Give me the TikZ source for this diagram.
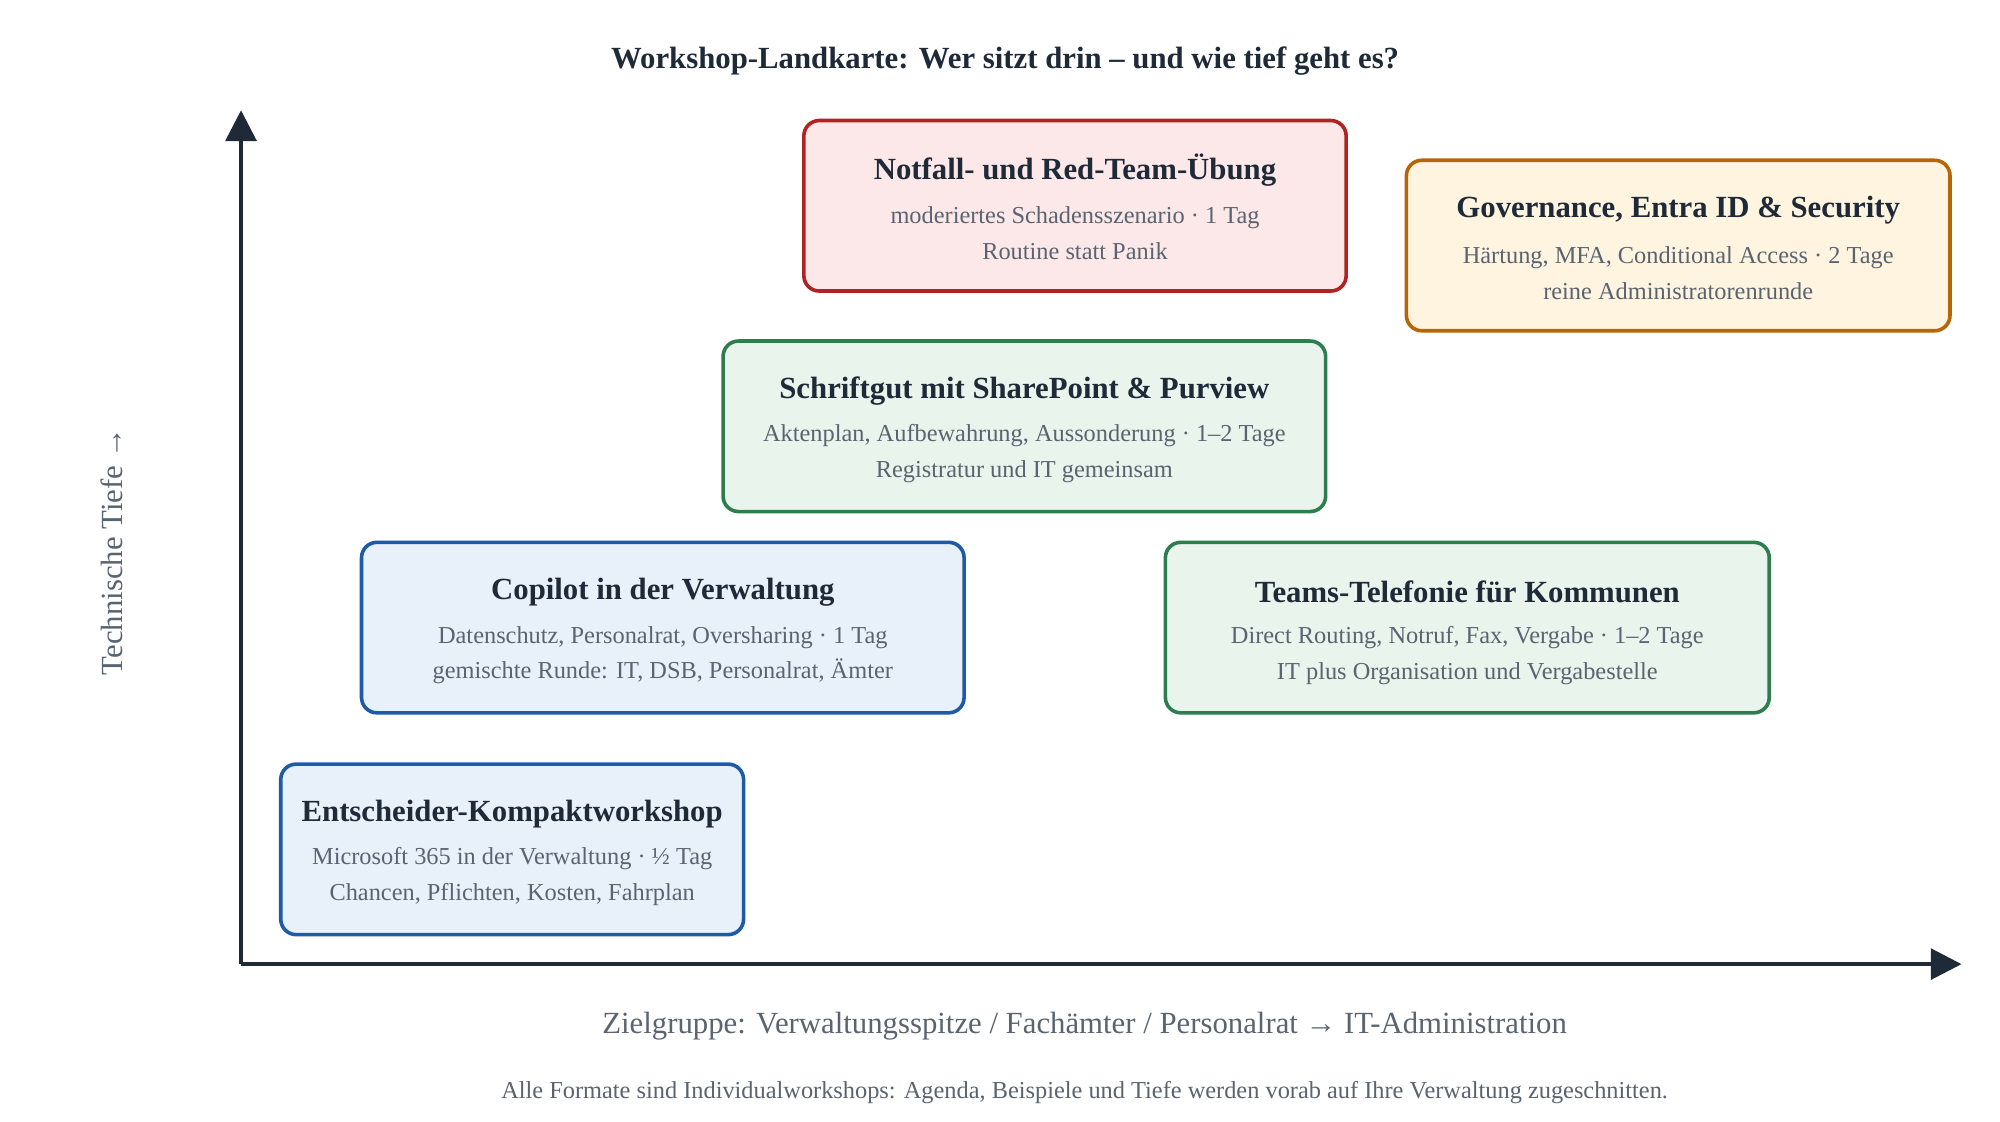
\documentclass[tikz,border=0pt]{standalone}
\usepackage{fontspec}
\setmainfont{Liberation Serif}
\usetikzlibrary{arrows.meta}
\definecolor{ink}{HTML}{1E2A38}
\definecolor{sub}{HTML}{5A6470}
\definecolor{redF}{HTML}{FCE8E8}\definecolor{redB}{HTML}{B22222}
\definecolor{orF}{HTML}{FFF4E0}\definecolor{orB}{HTML}{B8650A}
\definecolor{grF}{HTML}{E8F4EC}\definecolor{grB}{HTML}{2E7D4F}
\definecolor{blF}{HTML}{E8F0FA}\definecolor{blB}{HTML}{1F5AA6}
\begin{document}
\begin{tikzpicture}[x=0.5pt,y=-0.5pt,
 box/.style={rounded corners=6pt,line width=1.4pt},
 ttl/.style={font=\bfseries\fontsize{12}{14}\selectfont,text=ink},
 sb/.style={font=\fontsize{9.5}{11}\selectfont,text=sub},
 axis/.style={line width=1.5pt,draw=ink,-{Triangle[length=12pt,width=12pt]}}]
\useasboundingbox[fill=white] (0,0) rectangle (1560,875);
\node[font=\bfseries\fontsize{12}{14}\selectfont,text=ink] (title) at (784,48) {Workshop-Landkarte: Wer sitzt drin -- und wie tief geht es?};
\coordinate (o) at (188,752);
\coordinate (ytop) at (188,86);
\coordinate (xend) at (1530,752);
\draw[axis] (o) -- (ytop);
\draw[axis] (o) -- (xend);
\node[rotate=90,text=sub,font=\fontsize{12}{14}\selectfont] (yl) at (87,430) {Technische Tiefe →};
\node[text=sub,font=\fontsize{12}{14}\selectfont] (xl) at (846,800) {Zielgruppe: Verwaltungsspitze / Fachämter / Personalrat → IT-Administration};
\node[text=sub,font=\fontsize{9.5}{11}\selectfont] (fn) at (846,852) {Alle Formate sind Individualworkshops: Agenda, Beispiele und Tiefe werden vorab auf Ihre Verwaltung zugeschnitten.};
% boxes
\newcommand{\wbox}[9]{%
 \draw[box,fill=#1,draw=#2] (#3,#4) rectangle (#5,#6);
 \node[ttl] (#7t) at ({(#3+#5)/2},#4+39) {#8};
 \node[sb,align=center] (#7s) at ({(#3+#5)/2},#4+88) {#9};}
\wbox{redF}{redB}{627}{94}{1050}{227}{n}{Notfall- und Red-Team-Übung}{moderiertes Schadensszenario · 1 Tag\\[3pt]Routine statt Panik}
\wbox{orF}{orB}{1097}{125}{1521}{258}{g}{Governance, Entra ID \& Security}{Härtung, MFA, Conditional Access · 2 Tage\\[3pt]reine Administratorenrunde}
\wbox{grF}{grB}{564}{266}{1034}{399}{s}{Schriftgut mit SharePoint \& Purview}{Aktenplan, Aufbewahrung, Aussonderung · 1–2 Tage\\[3pt]Registratur und IT gemeinsam}
\wbox{blF}{blB}{282}{423}{752}{556}{c}{Copilot in der Verwaltung}{Datenschutz, Personalrat, Oversharing · 1 Tag\\[3pt]gemischte Runde: IT, DSB, Personalrat, Ämter}
\wbox{grF}{grB}{909}{423}{1380}{556}{t}{Teams-Telefonie für Kommunen}{Direct Routing, Notruf, Fax, Vergabe · 1–2 Tage\\[3pt]IT plus Organisation und Vergabestelle}
\wbox{blF}{blB}{219}{596}{580}{729}{e}{Entscheider-Kompaktworkshop}{Microsoft 365 in der Verwaltung · ½ Tag\\[3pt]Chancen, Pflichten, Kosten, Fahrplan}
\end{tikzpicture}
\end{document}
